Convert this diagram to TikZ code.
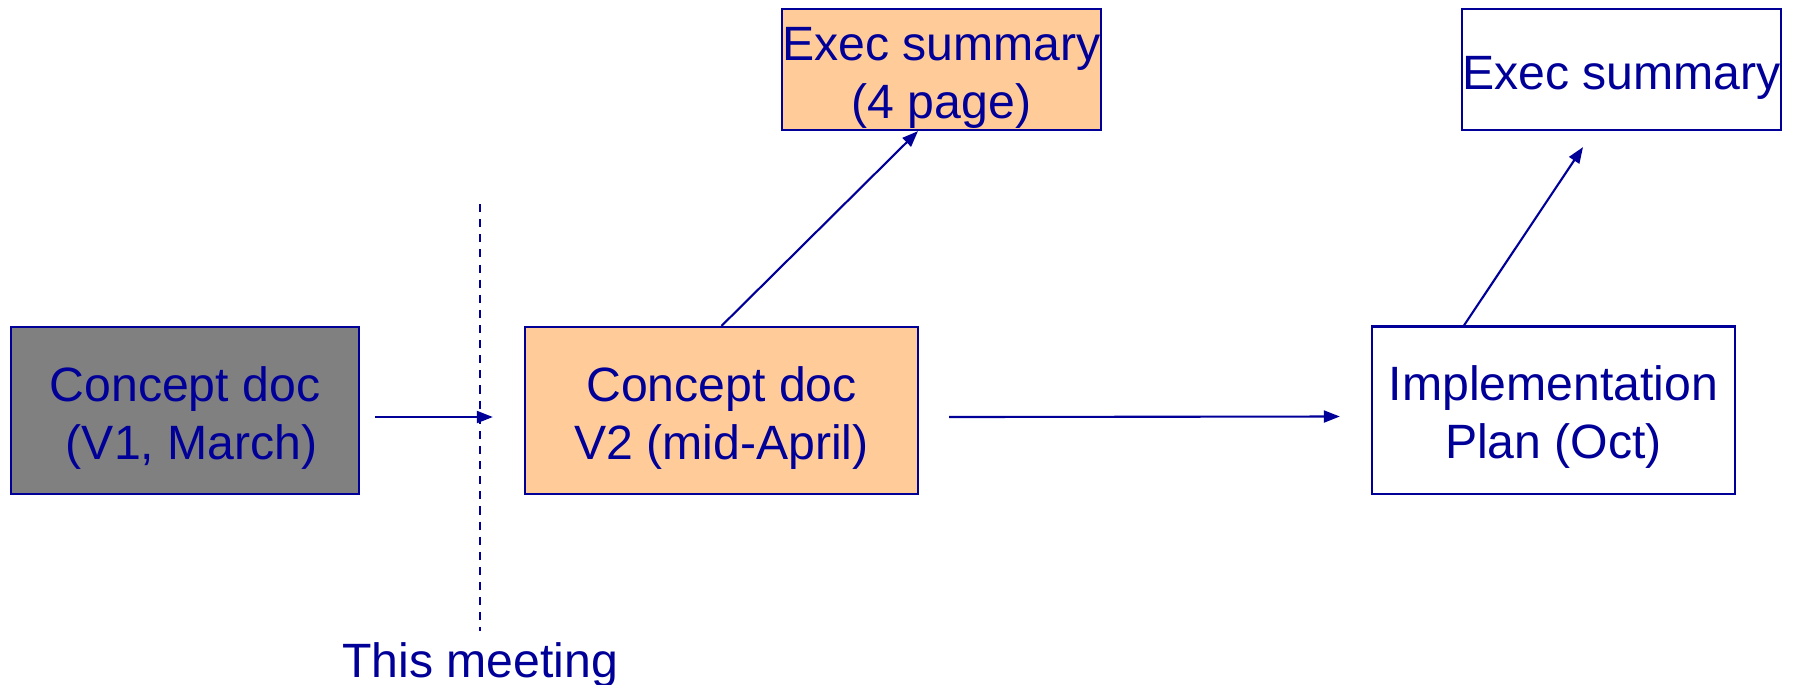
\documentclass[tikz,border=0pt]{standalone}
\usepackage{fontspec}
\setmainfont{Liberation Sans}
\usetikzlibrary{arrows.meta}
\definecolor{pptblue}{RGB}{0,0,153}
\definecolor{docgray}{RGB}{128,128,128}
\definecolor{docorange}{RGB}{255,204,153}
\newcommand{\topgap}{\rule{0pt}{14pt}}

\begin{document}
\begin{tikzpicture}[x=0.01cm, y=-0.01cm,
    docbox/.style={draw=pptblue, line width=0.6pt, text=pptblue, align=center,
      inner sep=0pt, font=\fontsize{13.7}{16.5}\selectfont, minimum height=1.67cm},
    sumbox/.style={docbox, minimum width=3.19cm, minimum height=1.21cm},
    flow/.style={draw=pptblue, line width=0.6pt, -{Triangle[length=0.16cm,width=0.12cm]}}]
    \useasboundingbox (0,0) rectangle (1800,684);

    % Documents
    \node[docbox, fill=docgray, minimum width=3.48cm] (v1) at (185,410.5) {\topgap Concept doc\\\hspace*{0.28em}(V1, March)};
    \node[docbox, fill=docorange, minimum width=3.93cm] (v2) at (721.5,410.5) {\topgap Concept doc\\V2 (mid-April)};
    \node[docbox, fill=white, minimum width=3.63cm] (plan) at (1553.5,410) {\topgap Implementation\\Plan (Oct)};

    % Summaries
    \node[sumbox, fill=docorange] (sum4) at (941.5,69.5) {\topgap Exec summary\\(4 page)};
    \node[sumbox, fill=white] (sum) at (1621.5,69.5) {\topgap Exec summary};

    % Meeting marker
    \coordinate (mtop) at (480,204);
    \coordinate (mbot) at (480,631);
    \draw[pptblue, line width=0.6pt, dash pattern=on 2.3pt off 2pt] (mtop) -- (mbot);
    \node[text=pptblue, font=\fontsize{13.7}{16.5}\selectfont, anchor=base] (meet) at (480,677) {This meeting};

    % Arrows
    \draw[flow] ([shift={(15,6.5)}]v1.east) -- ([shift={(-31,6.5)}]v2.west);
    \draw[flow] ([shift={(30,6.5)}]v2.east) -- ([shift={(-31,6.5)}]plan.west);
    \draw[flow] (v2.north) -- ([shift={(-23.5,0)}]sum4.south);
    \draw[flow] ([shift={(-89.5,0)}]plan.north) -- ([shift={(-38.5,16)}]sum.south);
\end{tikzpicture}
\end{document}
